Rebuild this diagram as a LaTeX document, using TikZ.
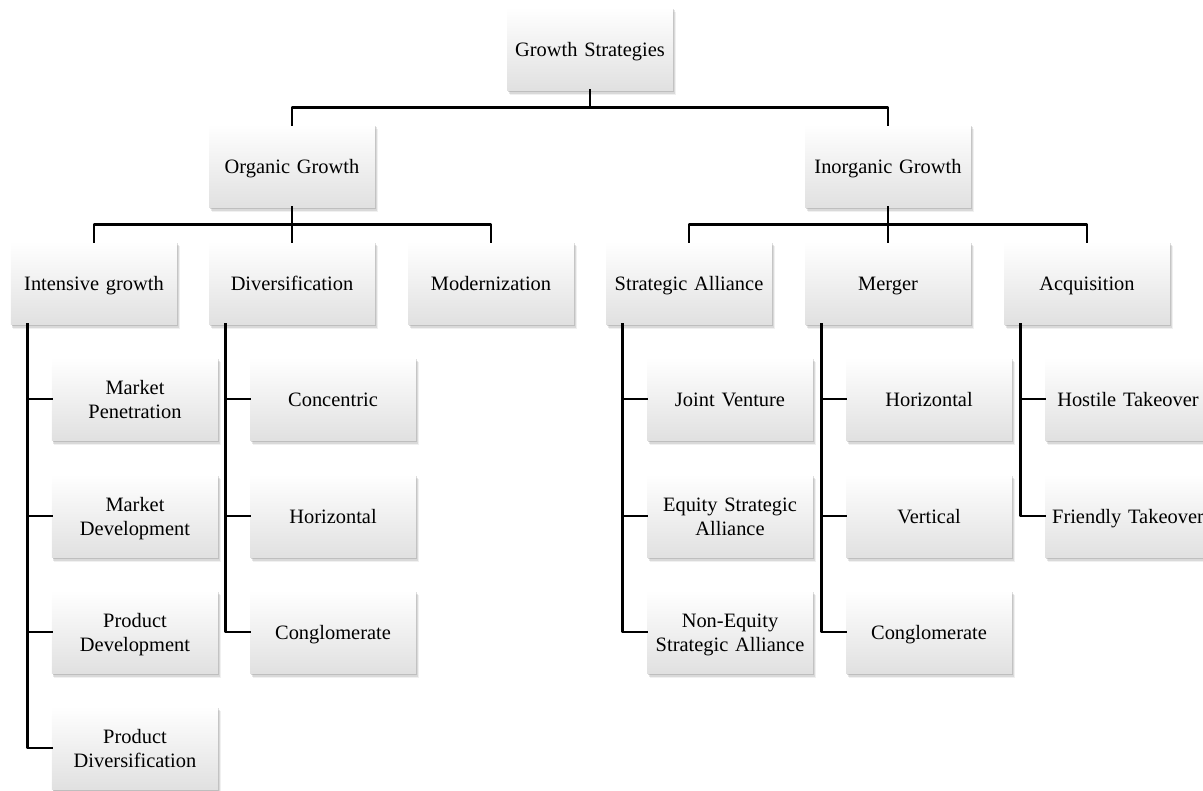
\documentclass[tikz,border=0pt]{standalone}
\usepackage{fontspec}
\setmainfont{Liberation Serif}[WordSpace=1.5]
\usetikzlibrary{shadows}

\begin{document}
\begin{tikzpicture}[x=1bp,y=-1bp,line join=round,line cap=rect,
	box/.style={minimum width=166bp,minimum height=83bp,inner sep=0pt,text width=164bp,align=center,
		top color=white,middle color=white,bottom color=black!12,
		drop shadow={shadow xshift=2.5bp,shadow yshift=-4.5bp,opacity=.12},
		drop shadow={shadow xshift=1.5bp,shadow yshift=-3bp,opacity=.2},
		drop shadow={shadow xshift=.8bp,shadow yshift=-1.5bp,opacity=.3},
		execute at begin node={\rule{0pt}{21bp}},execute at end node={\rule[-6bp]{0pt}{6bp}},
		font=\fontsize{20.5}{23.5}\selectfont},
	link/.style={line width=2.8bp}]
			\clip (0,0) rectangle (1203,791);
			% top levels
			\node[box] (root) at (590,49) {Growth Strategies};
			\node[box] (org) at (292,166) {Organic Growth};
			\node[box] (inorg) at (888,166) {Inorganic Growth};
			% second level
			\node[box] (intens) at (94,283) {Intensive growth};
			\node[box] (divers) at (292,283) {Diversification};
			\node[box] (modern) at (491,283) {Modernization};
			\node[box] (alli) at (689,283) {Strategic Alliance};
			\node[box] (merger) at (888,283) {Merger};
			\node[box] (acq) at (1087,283) {Acquisition};
			% third level
			\node[box] (mpen) at (135,399) {Market\\Penetration};
			\node[box] (mdev) at (135,516) {Market\\Development};
			\node[box] (pdev) at (135,632) {Product\\Development};
			\node[box] (pdiv) at (135,748) {Product\\Diversification};
			\node[box] (conc) at (333,399) {Concentric};
			\node[box] (dhor) at (333,516) {Horizontal};
			\node[box] (dcon) at (333,632) {Conglomerate};
			\node[box] (joint) at (730,399) {Joint Venture};
			\node[box] (equity) at (730,516) {Equity Strategic\\Alliance};
			\node[box] (nonequity) at (730,632) {Non-Equity\\Strategic Alliance};
			\node[box] (mhor) at (929,399) {Horizontal};
			\node[box] (mver) at (929,516) {Vertical};
			\node[box] (mcon) at (929,632) {Conglomerate};
			\node[box] (hostile) at (1128,399) {Hostile Takeover};
			\node[box] (friendly) at (1128,516) {Friendly Takeover};
			% connectors
			\draw[link] (root.south) -- ++(0,17) coordinate (j0) -| (org.north);
			\draw[link] (j0) -| (inorg.north);
			\draw[link] (org.south) -- ++(0,17) coordinate (j1) -| (intens.north);
			\draw[link] (j1) -| (divers.north);
			\draw[link] (j1) -| (modern.north);
			\draw[link] (inorg.south) -- ++(0,17) coordinate (j2) -| (alli.north);
			\draw[link] (j2) -| (merger.north);
			\draw[link] (j2) -| (acq.north);
			\draw[link] ([xshift=17bp]intens.south west) |- (mpen.west);
			\draw[link] ([xshift=17bp]intens.south west) |- (mdev.west);
			\draw[link] ([xshift=17bp]intens.south west) |- (pdev.west);
			\draw[link] ([xshift=17bp]intens.south west) |- (pdiv.west);
			\draw[link] ([xshift=17bp]divers.south west) |- (conc.west);
			\draw[link] ([xshift=17bp]divers.south west) |- (dhor.west);
			\draw[link] ([xshift=17bp]divers.south west) |- (dcon.west);
			\draw[link] ([xshift=17bp]alli.south west) |- (joint.west);
			\draw[link] ([xshift=17bp]alli.south west) |- (equity.west);
			\draw[link] ([xshift=17bp]alli.south west) |- (nonequity.west);
			\draw[link] ([xshift=17bp]merger.south west) |- (mhor.west);
			\draw[link] ([xshift=17bp]merger.south west) |- (mver.west);
			\draw[link] ([xshift=17bp]merger.south west) |- (mcon.west);
			\draw[link] ([xshift=17bp]acq.south west) |- (hostile.west);
			\draw[link] ([xshift=17bp]acq.south west) |- (friendly.west);
	\end{tikzpicture}
\end{document}
